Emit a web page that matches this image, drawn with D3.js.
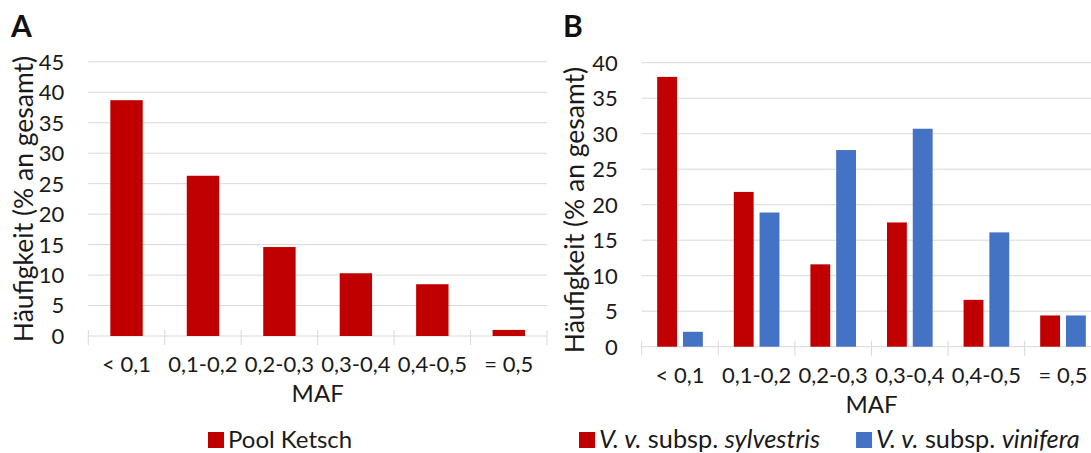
<!DOCTYPE html>
<html><head><meta charset="utf-8">
<script src="https://cdn.jsdelivr.net/npm/d3@7"></script>
<style>
html,body{margin:0;padding:0;background:#fff;}
svg text{font-family:Lato,"Open Sans",sans-serif;fill:#1a1a1a;}
</style></head>
<body>
<svg id="chart" width="1091" height="453"></svg>
<script>
const categories = ["< 0,1", "0,1-0,2", "0,2-0,3", "0,3-0,4", "0,4-0,5", "= 0,5"];
const poolKetsch = [38.7, 26.3, 14.6, 10.3, 8.5, 1.0];
const sylvestris = [38.0, 21.8, 11.6, 17.5, 6.6, 4.4];
const vinifera   = [2.1, 18.9, 27.7, 30.7, 16.1, 4.4];
const ticksA = [0, 5, 10, 15, 20, 25, 30, 35, 40, 45];
const ticksB = [0, 5, 10, 15, 20, 25, 30, 35, 40];
const yTitle = "Häufigkeit (% an gesamt)";
const xTitle = "MAF";
const RED = "#C00000", BLUE = "#4472C4", GRID = "#d9d9d9";

const svg = d3.select("#chart");

function panel(o) {
  const g = svg.append("g");
  const x = d3.scaleBand().domain(categories).range([o.x0, o.x1]);
  const y = d3.scaleLinear().domain([0, o.ymax]).range([o.y0, o.ytop]);
  // gridlines
  g.selectAll(".grid").data(o.ticks.filter(t => t > 0)).join("line")
    .attr("x1", o.x0).attr("x2", o.x1)
    .attr("y1", d => y(d)).attr("y2", d => y(d))
    .attr("stroke", GRID).attr("stroke-width", 1);
  // baseline
  g.append("line").attr("x1", o.x0).attr("x2", o.x1)
    .attr("y1", y(0)).attr("y2", y(0)).attr("stroke", GRID).attr("stroke-width", 1);
  // category tick marks at band boundaries
  const bounds = categories.map(c => x(c)).concat([o.x1]);
  g.selectAll(".ctick").data(bounds).join("line")
    .attr("x1", d => d).attr("x2", d => d)
    .attr("y1", y(0) - 6).attr("y2", y(0) + 9)
    .attr("stroke", GRID).attr("stroke-width", 1);
  // y tick labels
  g.selectAll(".ylab").data(o.ticks).join("text")
    .attr("x", o.x0 - 24).attr("y", d => y(d)).attr("dy", "0.36em")
    .attr("text-anchor", "end").attr("font-size", 22).text(d => d);
  // x tick labels
  g.selectAll(".xlab").data(categories).join("text")
    .attr("x", d => x(d) + x.bandwidth() / 2).attr("y", y(0) + 36)
    .attr("text-anchor", "middle").attr("font-size", 22).text(d => d);
  // bars
  const n = o.series.length;
  const inner = d3.scaleBand().domain(d3.range(n))
    .range([0, x.bandwidth()]).paddingInner(o.pin).paddingOuter(o.pout);
  o.series.forEach((s, si) => {
    g.selectAll(".bar" + si).data(s.values).join("rect")
      .attr("x", (d, i) => x(categories[i]) + inner(si))
      .attr("width", inner.bandwidth())
      .attr("y", d => y(d)).attr("height", d => y(0) - y(d))
      .attr("fill", s.color);
  });
  // axis titles
  g.append("text").attr("x", (o.x0 + o.x1) / 2).attr("y", y(0) + 66)
    .attr("text-anchor", "middle").attr("font-size", 24).text(xTitle);
  g.append("text")
    .attr("transform", `translate(${o.ylx},${o.ylc}) rotate(-90)`)
    .attr("text-anchor", "middle").attr("dy", "0.35em").attr("font-size", 26.5).text(yTitle);
  // panel letter
  g.append("text").attr("x", o.lx).attr("y", 37).attr("font-size", 30)
    .attr("font-weight", "bold").style("fill", "#111").text(o.letter);
  return {x, y};
}

panel({x0: 88.3, x1: 547, y0: 336, ytop: 336 - 45 * 6.093, ymax: 45, ticks: ticksA,
  series: [{values: poolKetsch, color: RED}], pin: 0, pout: 0.68,
  ylx: 24, ylc: 199, lx: 11, letter: "A"});
panel({x0: 641.7, x1: 641.7 + 6 * 76.6, y0: 346.7, ytop: 62.7, ymax: 40, ticks: ticksB,
  series: [{values: sylvestris, color: RED}, {values: vinifera, color: BLUE}], pin: 0.23, pout: 0.6,
  ylx: 575, ylc: 210, lx: 563, letter: "B"});

// legends
function legend(items, startX, baseY, fs) {
  let cx = startX;
  items.forEach(it => {
    svg.append("rect").attr("x", cx).attr("y", baseY - 16).attr("width", 16).attr("height", 16).attr("fill", it.color);
    const t = svg.append("text").attr("x", cx + 20).attr("y", baseY).attr("font-size", fs);
    it.parts.forEach(p => t.append("tspan").attr("font-style", p.i ? "italic" : "normal").text(p.t));
    cx = cx + 20 + t.node().getComputedTextLength() + it.gap;
  });
}
legend([{color: RED, parts: [{t: "Pool Ketsch"}], gap: 0}], 208, 448, 24);
legend([
  {color: RED, parts: [{t: "V. v.", i: true}, {t: " subsp. "}, {t: "sylvestris", i: true}], gap: 36},
  {color: BLUE, parts: [{t: "V. v.", i: true}, {t: " subsp. "}, {t: "vinifera", i: true}], gap: 0}
], 579, 448, 25.3);
</script>
</body></html>
